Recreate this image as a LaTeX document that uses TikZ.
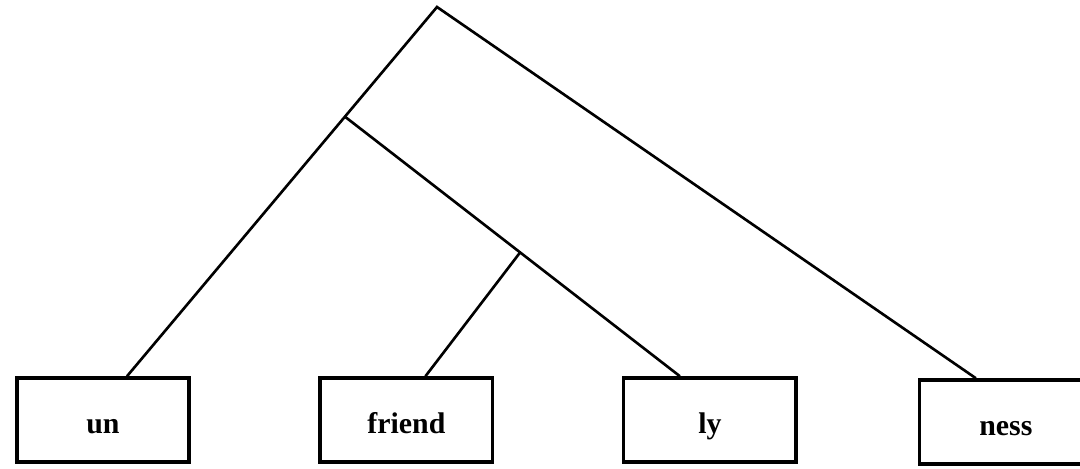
\documentclass[tikz,border=0pt]{standalone}
\usepackage{fontspec}
\setmainfont{Liberation Serif}
\usepackage{tikz}
\usetikzlibrary{positioning, calc}

\begin{document}
\begin{tikzpicture}[x=0.02cm, y=-0.02cm,
          font=\fontsize{17}{20}\selectfont\bfseries,
          morph/.style={draw, line width=2pt, minimum width=3.45cm,
                        minimum height=1.68cm, inner sep=0pt,
                        text height=0.66cm, text depth=0.1cm},
          branch/.style={line width=1.5pt}]
        \useasboundingbox (0,0) rectangle (1080,469);
        % the four morphemes along the bottom
        \node[morph] (un) at (103,420) {un};
        \node[morph, right=2.55cm of un] (friend) {friend};
        \node[morph, right=2.55cm of friend] (ly) {ly};
        \node[morph, right=2.4cm of ly, yshift=-0.04cm] (ness) {ness};
        % where the branches meet the boxes
        \coordinate (unTop) at ($(un.north)+(0.48cm,0)$);
        \coordinate (friendTop) at ($(friend.north)+(0.38cm,0)$);
        \coordinate (lyTop) at ($(ly.north)+(-0.6cm,0)$);
        \coordinate (nessTop) at ($(ness.north)+(-0.6cm,0)$);
        % branching points of the tree
        \coordinate (root) at (437,7);
        \coordinate (unfriendly) at ($(root)!0.297!(unTop)$);
        \coordinate (friendly) at ($(unfriendly)!0.523!(lyTop)$);
        \draw[branch] (unTop) -- (root) -- (nessTop);
        \draw[branch] (unfriendly) -- (lyTop);
        \draw[branch] (friendly) -- (friendTop);
      \end{tikzpicture}
\end{document}
